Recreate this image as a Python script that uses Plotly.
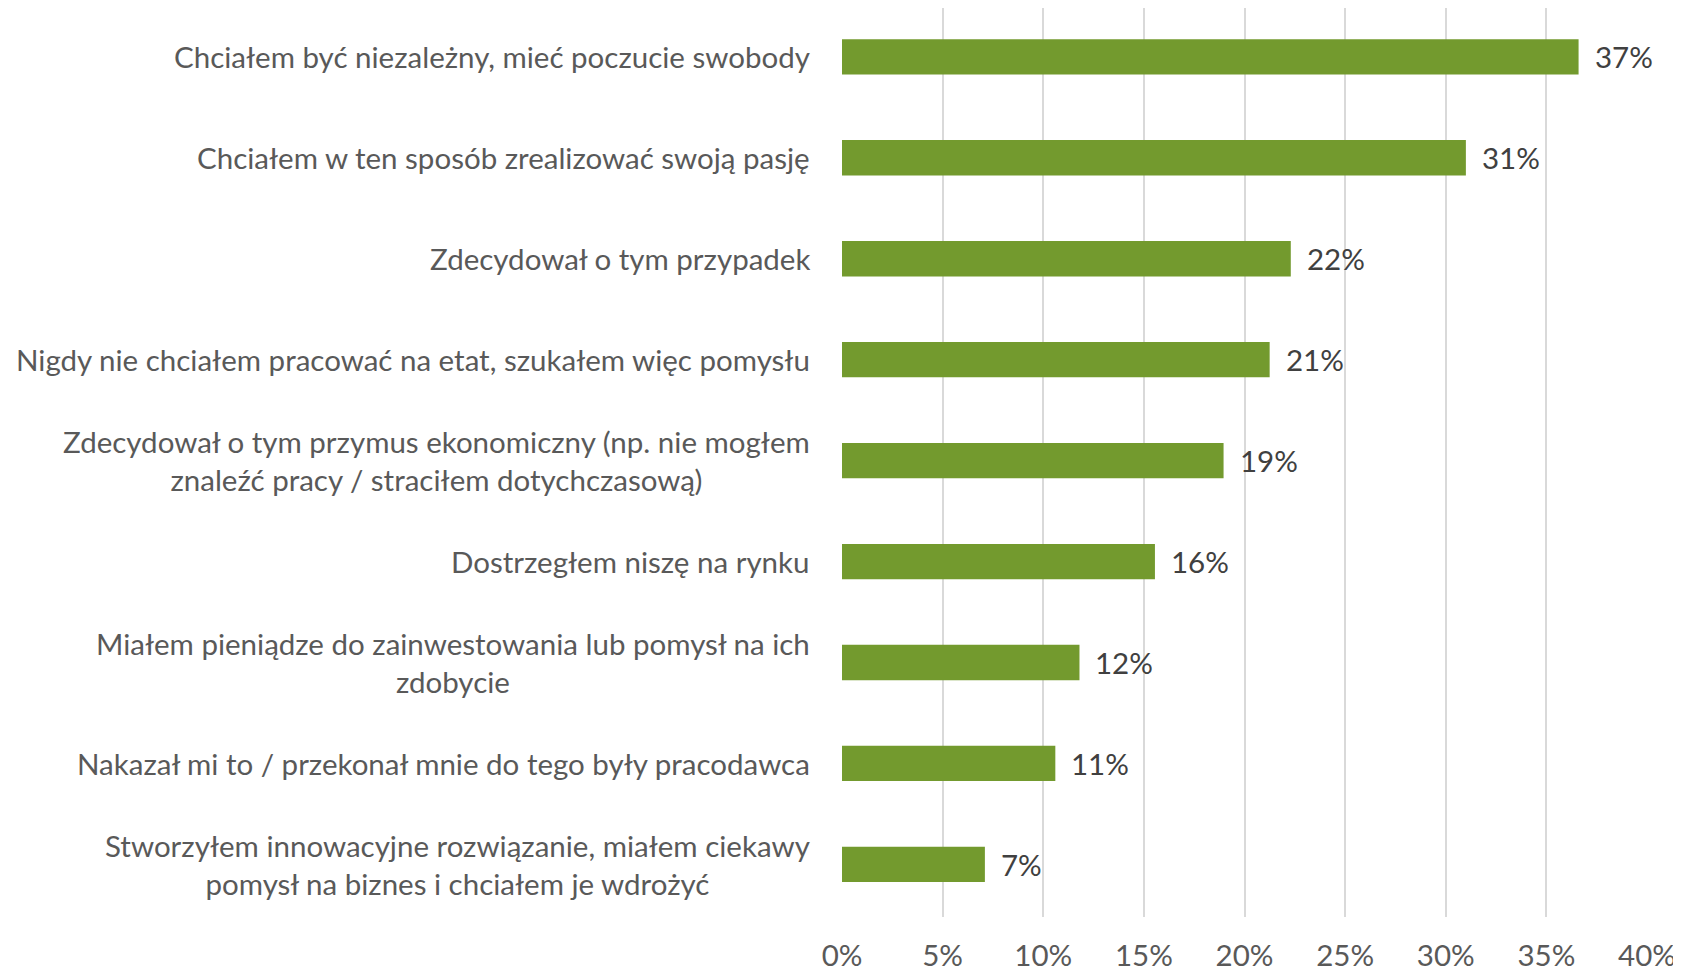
import plotly.graph_objects as go

categories = [
    "Chciałem być niezależny, mieć poczucie swobody",
    "Chciałem w ten sposób zrealizować swoją pasję",
    "Zdecydował o tym przypadek",
    "Nigdy nie chciałem pracować na etat, szukałem więc pomysłu",
    "Zdecydował o tym przymus ekonomiczny (np. nie mogłem<br>znaleźć pracy / straciłem dotychczasową)",
    "Dostrzegłem niszę na rynku",
    "Miałem pieniądze do zainwestowania lub pomysł na ich<br>zdobycie",
    "Nakazał mi to / przekonał mnie do tego były pracodawca",
    "Stworzyłem innowacyjne rozwiązanie, miałem ciekawy<br>pomysł na biznes i chciałem je wdrożyć",
]
values = [36.6, 31.0, 22.3, 21.25, 18.96, 15.55, 11.8, 10.6, 7.1]
value_labels = ["37%", "31%", "22%", "21%", "19%", "16%", "12%", "11%", "7%"]
tick_vals = [0, 5, 10, 15, 20, 25, 30, 35, 40]
tick_text = ["0%", "5%", "10%", "15%", "20%", "25%", "30%", "35%", "40%"]

ids = [f"c{i}" for i in range(len(categories))]

FONT = "Lato"
FS = 29.5
fig = go.Figure()
fig.add_trace(go.Bar(
    x=values, y=ids, orientation="h",
    marker=dict(color="#739A2E", line=dict(width=0)),
    hoverinfo="skip",
))

annotations = []
for cid, cat in zip(ids, categories):
    annotations.append(dict(
        x=0, xref="paper", y=cid, yref="y", text=cat, showarrow=False,
        xanchor="right", yanchor="middle", align="center", xshift=-30,
        font=dict(family=FONT, size=FS, color="#595959"),
    ))
for cid, v, lab in zip(ids, values, value_labels):
    annotations.append(dict(
        x=v, xref="x", y=cid, yref="y", text=lab, showarrow=False,
        xanchor="left", yanchor="middle", xshift=14,
        font=dict(family=FONT, size=FS, color="#404040"),
    ))

fig.update_layout(
    width=1681, height=970,
    margin=dict(l=833.5, r=42.3, t=0, b=61.4, pad=0),
    plot_bgcolor="white", paper_bgcolor="white",
    bargap=0.65,
    showlegend=False,
    annotations=annotations,
    font=dict(family=FONT),
)
fig.update_xaxes(
    range=[0, 40], tickvals=tick_vals, ticktext=tick_text,
    showgrid=True, gridcolor="#D9D9D9", gridwidth=2,
    zeroline=False, showline=False, ticks="",
    tickfont=dict(family=FONT, size=FS, color="#595959"),
    ticklabelstandoff=18,
)
fig.update_yaxes(
    categoryorder="array", categoryarray=ids, range=[8.521, -0.4837],
    showticklabels=False, showgrid=False, zeroline=False, showline=False,
)

fig.write_html("out.html")
